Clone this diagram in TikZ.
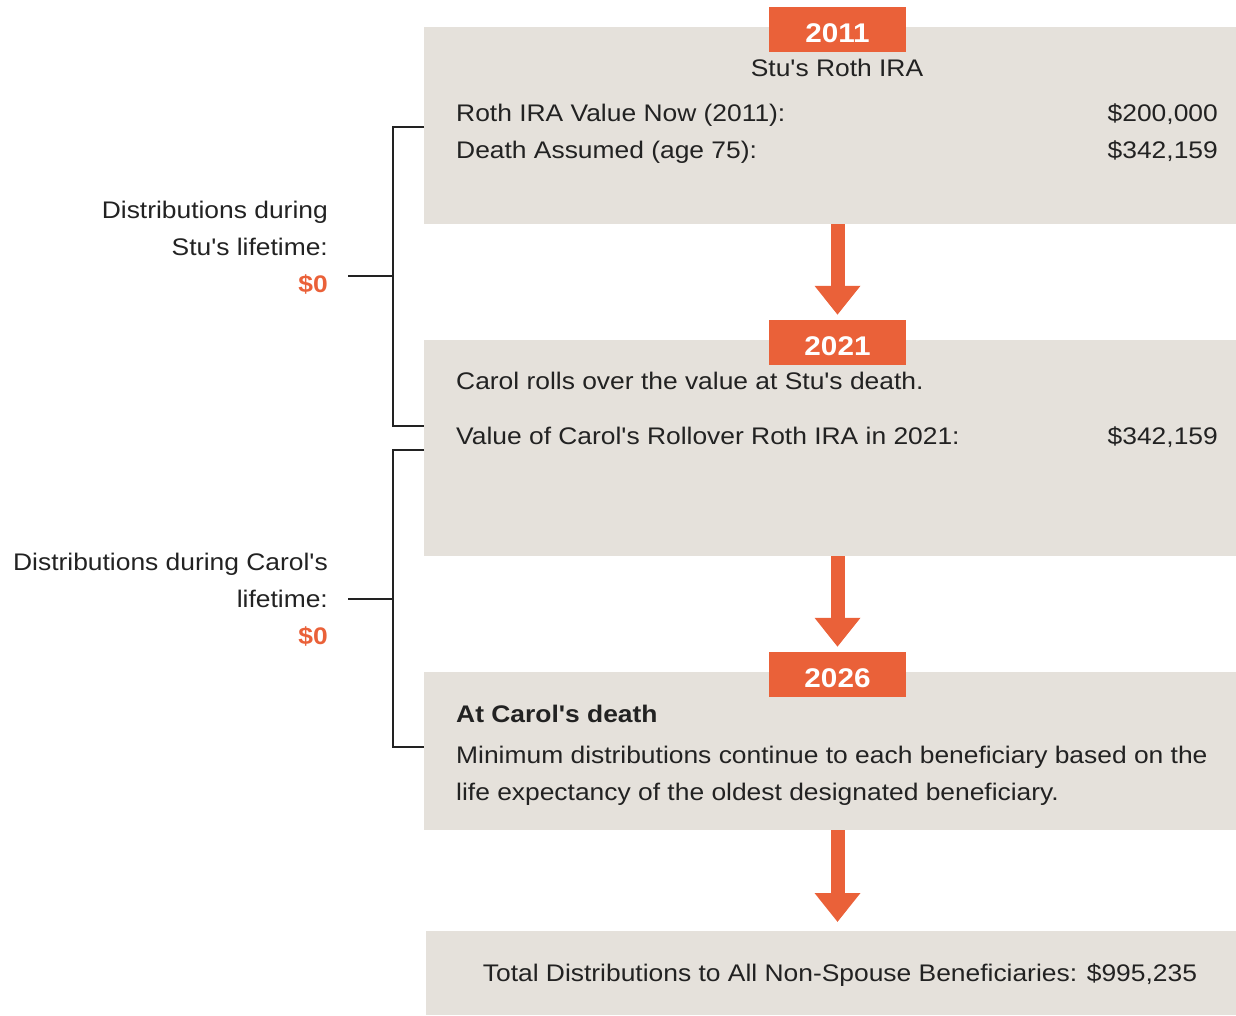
\documentclass[tikz,border=0pt]{standalone}
\usepackage{fontspec}
\setmainfont{Liberation Sans}[FakeStretch=1.1, Ligatures=TeXOff]
\usetikzlibrary{arrows.meta}
\definecolor{boxbg}{HTML}{E5E1DB}
\definecolor{accent}{HTML}{EA6139}
\definecolor{ink}{HTML}{222222}
\tikzset{
  box/.style={fill=boxbg, draw=none, anchor=north west, inner sep=0pt},
  yeartab/.style={fill=accent, draw=none, text=white, minimum width=137pt, minimum height=45pt, inner sep=0pt},
  tablabel/.style={text=white, inner sep=0pt, font=\fontsize{27}{30}\selectfont\bfseries},
  txt/.style={text=ink, inner sep=0pt, font=\fontsize{24}{29}\selectfont},
  flowarrow/.style={draw=accent, line width=14pt, -{Triangle[width=44pt,length=29pt]}},
  bracket/.style={draw=ink, line width=2.5pt},
  zero/.style={text=accent, inner sep=0pt, font=\fontsize{24}{29}\selectfont\bfseries}
}
\begin{document}
\begin{tikzpicture}[x=1pt,y=-1pt]
\useasboundingbox (0,0) rectangle (1236,1015);
% boxes
\node[box, minimum width=812pt, minimum height=197pt] (b1) at (424,27) {};
\node[box, minimum width=812pt, minimum height=216pt] (b2) at (424,340) {};
\node[box, minimum width=812pt, minimum height=158pt] (b3) at (424,672) {};
\node[box, minimum width=810pt, minimum height=84pt] (b4) at (426,931) {};
% year tabs
\node[yeartab] (t1) at (837.5,29.5) {};
\node[yeartab] (t2) at (837.5,342.5) {};
\node[yeartab] (t3) at (837.5,674.5) {};
\node[tablabel, anchor=base] (y1) at (837.5,42) {2011};
\node[tablabel, anchor=base] (y2) at (837.5,355) {2021};
\node[tablabel, anchor=base] (y3) at (837.5,687) {2026};
% box 1 text
\node[txt, anchor=base] (s1) at (837,76) {Stu's Roth IRA};
\node[txt, anchor=base west] (r1) at (456,121) {Roth IRA Value Now (2011):};
\node[txt, anchor=base east] (v1) at (1218,121) {\$200,000};
\node[txt, anchor=base west] (r2) at (456,158) {Death Assumed (age 75):};
\node[txt, anchor=base east] (v2) at (1218,158) {\$342,159};
% box 2 text
\node[txt, anchor=base west] (c1) at (456,389) {Carol rolls over the value at Stu's death.};
\node[txt, anchor=base west] (c2) at (456,444) {Value of Carol's Rollover Roth IRA in 2021:};
\node[txt, anchor=base east] (v3) at (1218,444) {\$342,159};
% box 3 text
\node[txt, anchor=base west, font=\fontsize{24}{29}\selectfont\bfseries] (d1) at (456,722) {At Carol's death};
\node[txt, anchor=base west] (d2) at (456,763) {Minimum distributions continue to each beneficiary based on the};
\node[txt, anchor=base west] (d3) at (456,800) {life expectancy of the oldest designated beneficiary.};
% box 4 text
\node[txt, anchor=base] (tot) at (840,981) {Total Distributions to All Non-Spouse Beneficiaries: \$995,235};
% arrows
\draw[flowarrow, shorten >=5pt] (b1.south -| t1.north) -- (t2.north);
\draw[flowarrow, shorten >=5pt] (b2.south -| t2.north) -- (t3.north);
\draw[flowarrow, shorten >=9pt] (b3.south -| t3.north) -- (b4.north -| t3.north);
% brackets
\coordinate (k1t) at (424,127);
\coordinate (k1b) at (424,426);
\coordinate (k2t) at (424,450);
\coordinate (k2b) at (424,747);
\draw[bracket] (k1t) -- (393,127) -- (393,426) -- (k1b);
\draw[bracket] (k2t) -- (393,450) -- (393,747) -- (k2b);
% left labels
\node[txt, anchor=base east] (l1a) at (328,218) {Distributions during};
\node[txt, anchor=base east] (l1b) at (328,255) {Stu's lifetime:};
\node[zero, anchor=base east] (l1c) at (328,292) {\$0};
\node[txt, anchor=base east] (l2a) at (328,570) {Distributions during Carol's};
\node[txt, anchor=base east] (l2b) at (328,607) {lifetime:};
\node[zero, anchor=base east] (l2c) at (328,644) {\$0};
\coordinate (m1) at (348,276);
\coordinate (m2) at (348,599);
\draw[bracket] (m1) -- (393,276);
\draw[bracket] (m2) -- (393,599);
\end{tikzpicture}
\end{document}
